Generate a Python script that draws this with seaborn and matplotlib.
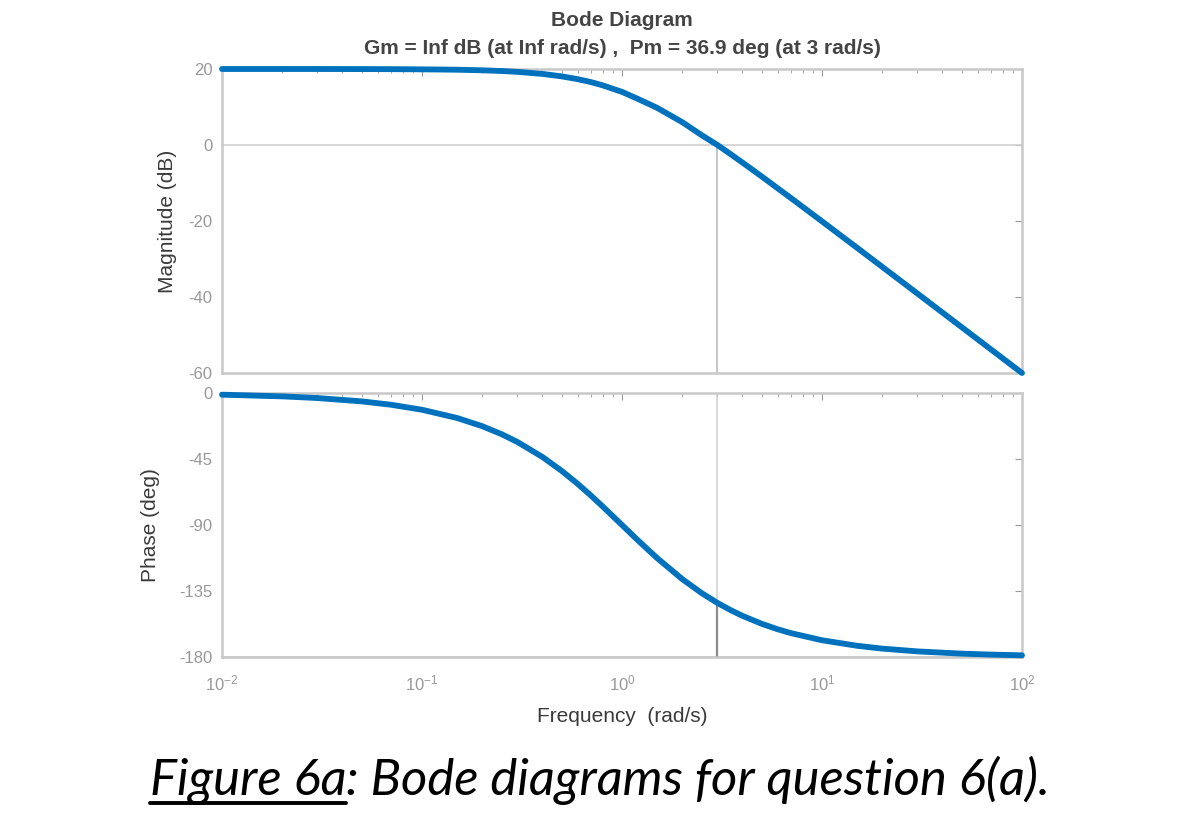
import numpy as np
import pandas as pd
import seaborn as sns
import matplotlib.pyplot as plt
from matplotlib.lines import Line2D
from matplotlib.ticker import LogLocator, NullFormatter

# frequencies (rad/s) and values
freq = [0.01, 0.02, 0.03, 0.05, 0.07, 0.1, 0.15, 0.2, 0.25, 0.3, 0.4, 0.5, 0.6, 0.7,
        0.8, 1.0, 1.2, 1.5, 2.0, 2.5, 3.0, 3.5, 4.0, 5.0, 6.0, 7.0, 10.0, 15.0,
        20.0, 30.0, 50.0, 70.0, 100.0]
magnitude = [20.0, 20.0, 20.0, 19.98, 19.96, 19.91, 19.81, 19.66, 19.47, 19.25, 18.71,
             18.06, 17.33, 16.55, 15.7, 13.98, 12.14, 9.76, 6.02, 2.6, 0.0, -2.44,
             -4.61, -8.3, -11.38, -13.98, -20.09, -27.08, -32.06, -39.09, -47.96,
             -53.81, -60.0]
phase = [-1.15, -2.29, -3.44, -5.72, -8.01, -11.42, -17.06, -22.62, -28.07, -33.4,
         -43.6, -53.13, -61.93, -69.98, -77.32, -90.0, -100.39, -112.62, -126.87,
         -136.4, -143.13, -148.11, -151.93, -157.38, -161.08, -163.74, -168.58,
         -172.37, -174.28, -176.18, -177.71, -178.36, -178.85]

w_cross = 3.0
phase_cross = -143.13

mag_ticks = [20, 0, -20, -40, -60]
phase_ticks = [0, -45, -90, -135, -180]

title_1 = 'Bode Diagram'
title_2 = 'Gm = Inf dB (at Inf rad/s) ,  Pm = 36.9 deg (at 3 rad/s)'
caption_a = 'Figure 6a'
caption_b = ': Bode diagrams for question 6(a).'

df = pd.DataFrame({'freq': freq, 'mag': magnitude, 'phase': phase})

sns.set_style('white')
plt.rcParams['font.family'] = ['Liberation Sans', 'DejaVu Sans']
plt.rcParams['axes.unicode_minus'] = False

blue = '#0072BD'
frame = '#c8c8c8'
tick_col = '#989898'
label_col = '#3a3a3a'

fig = plt.figure(figsize=(11.86, 8.18), dpi=100)
W, H = 1186, 818
def box(l, t, r, b):
    return [l / W, 1 - b / H, (r - l) / W, (b - t) / H]

ax1 = fig.add_axes(box(222, 69, 1022, 373))
ax2 = fig.add_axes(box(222, 393, 1022, 657))

for ax in (ax1, ax2):
    ax.set_xscale('log')
    ax.set_xlim(0.01, 100)
    for s in ax.spines.values():
        s.set_color(frame)
        s.set_linewidth(1.8)
    ax.tick_params(which='both', direction='in', top=True, right=True,
                   color=tick_col, labelcolor=tick_col, labelsize=12)
    ax.tick_params(axis='y', pad=7)
    ax.tick_params(axis='x', pad=12)
    ax.tick_params(which='major', length=5)
    ax.tick_params(which='minor', length=3)
    ax.xaxis.set_minor_locator(LogLocator(base=10, subs=np.arange(2, 10)))
    ax.xaxis.set_minor_formatter(NullFormatter())

# magnitude
ax1.axhline(0, color='#d0d0d0', lw=1.2, zorder=1)
ax1.plot([w_cross, w_cross], [-60, 0], color='#c0c0c0', lw=1.3, zorder=1)
sns.lineplot(data=df, x='freq', y='mag', ax=ax1, color=blue, lw=4.2,
             clip_on=False, zorder=3)
ax1.set_ylim(-60, 20)
ax1.set_yticks(mag_ticks)
ax1.set_xticklabels([])
ax1.set_xlabel('')
ax1.set_ylabel('Magnitude (dB)', color=label_col, fontsize=15)
ax1.yaxis.set_label_coords(-0.056, 0.5)

# phase
ax2.axhline(-180, color='#d0d0d0', lw=1.2, zorder=1)
ax2.plot([w_cross, w_cross], [-180, 0], color='#d4d4d4', lw=1.2, zorder=1)
ax2.plot([w_cross, w_cross], [-180, phase_cross], color='#8c8c8c', lw=1.6, zorder=2)
sns.lineplot(data=df, x='freq', y='phase', ax=ax2, color=blue, lw=4.2,
             clip_on=False, zorder=3)
ax2.set_ylim(-180, 0)
ax2.set_yticks(phase_ticks)
ax2.set_xlabel('Frequency  (rad/s)', color=label_col, fontsize=15)
ax2.xaxis.set_label_coords(0.5, -0.19)
ax2.set_ylabel('Phase (deg)', color=label_col, fontsize=15)
ax2.yaxis.set_label_coords(-0.0775, 0.5)

# titles
cx = 622 / W
fig.text(cx, 1 - 20 / H, title_1, ha='center', va='center', fontsize=15,
         fontweight='bold', color='#444444')
fig.text(cx, 1 - 48 / H, title_2, ha='center', va='center', fontsize=15,
         fontweight='bold', color='#444444')

# caption with underlined first part
cap_kw = dict(fontsize=36.5, style='italic', family=['Lato', 'DejaVu Sans'],
              color='black', va='baseline')
base_y = 1 - 795 / H
t1 = fig.text(0, base_y, caption_a, ha='left', **cap_kw)
t2 = fig.text(0, base_y, caption_b, ha='left', **cap_kw)
renderer = fig.canvas.get_renderer()
w1 = t1.get_window_extent(renderer).width / W
w2 = t2.get_window_extent(renderer).width / W
x0 = 600 / W - (w1 + w2) / 2
t1.set_x(x0)
t2.set_x(x0 + w1)
fig.add_artist(Line2D([x0, x0 + w1], [base_y - 8 / H, base_y - 8 / H],
                      color='black', lw=2.8))

fig.savefig('out.png', dpi=100)
